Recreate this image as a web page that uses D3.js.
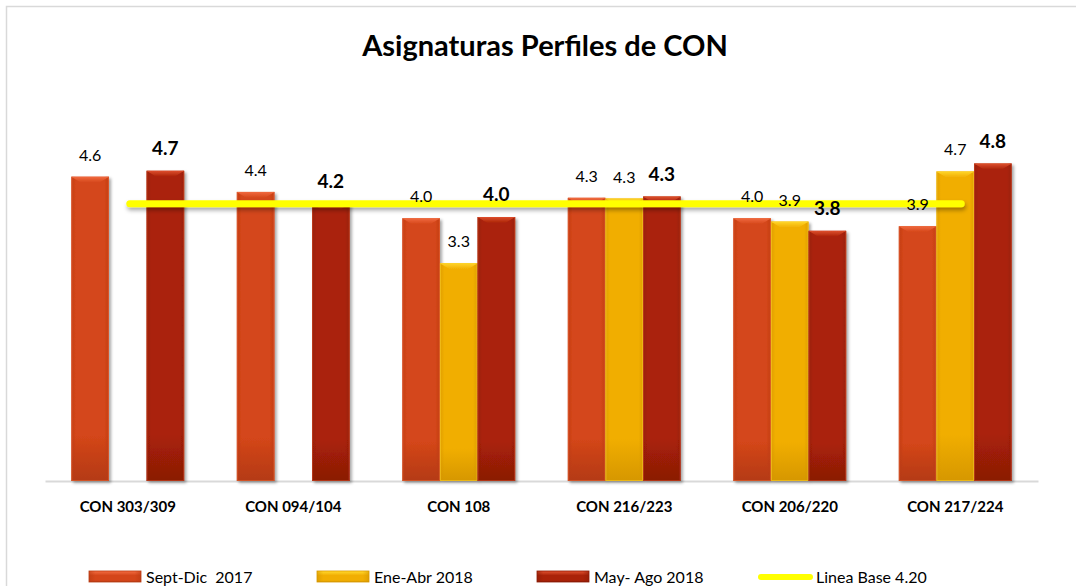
<!DOCTYPE html>
<html>
<head>
<meta charset="utf-8">
<script src="https://cdn.jsdelivr.net/npm/d3@7"></script>
<style>
    body { margin: 0; background: #fff; }
    svg text { font-family: Lato, "Open Sans", sans-serif; fill: #000; }
</style>
</head>
<body>
<div id="chart"></div>
<script>

// data
var categories = ["CON 303/309", "CON 094/104", "CON 108", "CON 216/223", "CON 206/220", "CON 217/224"];
var seriesNames = ["Sept-Dic  2017", "Ene-Abr 2018", "May- Ago 2018"];
var septDic = [4.61, 4.38, 3.98, 4.29, 3.98, 3.86];
var eneAbr = [null, null, 3.30, 4.28, 3.93, 4.69];
var mayAgo = [4.70, 4.20, 4.00, 4.31, 3.79, 4.81];
var lineaBase = [4.20, 4.20, 4.20, 4.20, 4.20, 4.20];
var lineaBaseName = "Linea Base 4.20";

var width = 1076, height = 586;
var margin = { top: 85, right: 38, bottom: 105, left: 45 };

var svg = d3.select("#chart").append("svg")
    .attr("width", width)
    .attr("height", height);

/*
 * defs: gradients and shadow
 */
var defs = svg.append("defs");

var palette = [
    { id: "sept", top: "#f0693e", mid: "#d4461a", low: "#b43a12", edge: "#b83a12" },
    { id: "ene", top: "#ffd52a", mid: "#f1ae02", low: "#d69700", edge: "#d39600" },
    { id: "may", top: "#dc4e2c", mid: "#aa2208", low: "#8a1a05", edge: "#8c1c06" }
];

palette.forEach(function(p) {
    var g = defs.append("linearGradient").attr("id", "body-" + p.id)
        .attr("x1", 0).attr("x2", 0).attr("y1", 0).attr("y2", 1);
    g.append("stop").attr("offset", "0%").attr("stop-color", p.mid);
    g.append("stop").attr("offset", "85%").attr("stop-color", p.mid);
    g.append("stop").attr("offset", "100%").attr("stop-color", p.low);

    var h = defs.append("linearGradient").attr("id", "side-" + p.id)
        .attr("x1", 0).attr("x2", 1).attr("y1", 0).attr("y2", 0);
    h.append("stop").attr("offset", "0%").attr("stop-color", p.edge).attr("stop-opacity", 0.6);
    h.append("stop").attr("offset", "12%").attr("stop-color", p.edge).attr("stop-opacity", 0);
    h.append("stop").attr("offset", "88%").attr("stop-color", p.edge).attr("stop-opacity", 0);
    h.append("stop").attr("offset", "100%").attr("stop-color", p.edge).attr("stop-opacity", 0.6);

    var t = defs.append("linearGradient").attr("id", "top-" + p.id)
        .attr("x1", 0).attr("x2", 0).attr("y1", 0).attr("y2", 1);
    t.append("stop").attr("offset", "0%").attr("stop-color", p.top);
    t.append("stop").attr("offset", "100%").attr("stop-color", p.mid);
});

var shadow = defs.append("filter").attr("id", "shadow")
    .attr("x", "-20%").attr("y", "-20%").attr("width", "150%").attr("height", "150%");
shadow.append("feDropShadow")
    .attr("dx", 2).attr("dy", 2).attr("stdDeviation", 1.8)
    .attr("flood-color", "#000").attr("flood-opacity", 0.35);

// a flat line has no height, so its shadow works in user space
var lineShadow = defs.append("filter").attr("id", "line-shadow")
    .attr("filterUnits", "userSpaceOnUse")
    .attr("x", 0).attr("y", 0).attr("width", width).attr("height", height);
lineShadow.append("feDropShadow")
    .attr("dx", 1).attr("dy", 3).attr("stdDeviation", 2)
    .attr("flood-color", "#000").attr("flood-opacity", 0.35);

// chart border
svg.append("rect")
    .attr("x", 6.5).attr("y", 6.5)
    .attr("width", 1090).attr("height", 600)
    .style("fill", "none")
    .style("stroke", "#d9d9d9")
    .style("stroke-width", 1.5);

// title
svg.append("text")
    .attr("x", 545)
    .attr("y", 56)
    .attr("text-anchor", "middle")
    .style("font-size", "29px")
    .style("font-weight", "bold")
    .text("Asignaturas Perfiles de CON");

/*
 * scales
 */
var x0 = d3.scaleBand()
    .domain(categories)
    .range([margin.left, width - margin.right])
    .padding(0);

var x1 = d3.scaleBand()
    .domain(seriesNames)
    .range([0, x0.bandwidth()])
    .paddingInner(0)
    .paddingOuter(0.7);

var y = d3.scaleLinear()
    .domain([0, 6])
    .range([height - margin.bottom, margin.top]);

var allSeries = [septDic, eneAbr, mayAgo];
var bars = [];
categories.forEach(function(c, i) {
    allSeries.forEach(function(s, j) {
        if (s[i] !== null) bars.push({ cat: c, series: seriesNames[j], idx: j, value: s[i] });
    });
});

// x axis
var xAxis = svg.append("g")
    .attr("class", "x-axis")
    .attr("transform", "translate(0," + y(0) + ")")
    .call(d3.axisBottom(x0).tickSize(0));

xAxis.select(".domain")
    .style("stroke", "#d9d9d9")
    .style("stroke-width", 2);

xAxis.selectAll("text")
    .attr("y", 31)
    .attr("dy", 0)
    .style("font-family", "Lato, sans-serif")
    .style("font-size", "15px")
    .style("font-weight", "bold")
    .style("fill", "#000");

/*
 * bars
 */
var bevel = 6;

var barG = svg.selectAll(".bar")
    .data(bars)
    .enter().append("g")
    .attr("class", "bar")
    .attr("transform", function(d) { return "translate(" + (x0(d.cat) + x1(d.series)) + ",0)"; })
    .style("filter", "url(#shadow)");

barG.append("rect")
    .attr("x", 0)
    .attr("y", function(d) { return y(d.value); })
    .attr("width", x1.bandwidth())
    .attr("height", function(d) { return y(0) - y(d.value); })
    .style("fill", function(d) { return "url(#body-" + palette[d.idx].id + ")"; });

barG.append("rect")
    .attr("x", 0)
    .attr("y", function(d) { return y(d.value); })
    .attr("width", x1.bandwidth())
    .attr("height", function(d) { return y(0) - y(d.value); })
    .style("fill", function(d) { return "url(#side-" + palette[d.idx].id + ")"; });

barG.append("path")
    .attr("d", function(d) {
        var w = x1.bandwidth(), t = y(d.value);
        return "M0," + t + "L" + w + "," + t + "L" + (w - bevel * 1.6) + "," + (t + bevel) +
            "L" + (bevel * 1.6) + "," + (t + bevel) + "Z";
    })
    .style("fill", function(d) { return "url(#top-" + palette[d.idx].id + ")"; });

// thin light outline
barG.append("rect")
    .attr("x", 0.5)
    .attr("y", function(d) { return y(d.value) + 0.5; })
    .attr("width", x1.bandwidth() - 1)
    .attr("height", function(d) { return y(0) - y(d.value) - 1; })
    .style("fill", "none")
    .style("stroke", function(d) { return palette[d.idx].top; })
    .style("stroke-opacity", 0.5)
    .style("stroke-width", 1);

/*
 * linea base
 */
var line = d3.line()
    .x(function(d, i) { return x0(categories[i]) + x0.bandwidth() / 2 + (i === 0 ? 2 : 6); })
    .y(function(d) { return y(d); });

svg.append("path")
    .datum(lineaBase)
    .attr("d", line)
    .style("fill", "none")
    .style("stroke", "#ffff00")
    .style("stroke-width", 7)
    .style("stroke-linecap", "round")
    .style("filter", "url(#line-shadow)");

/*
 * data labels
 */
var fmt = d3.format(".1f");

svg.selectAll(".label")
    .data(bars)
    .enter().append("text")
    .attr("class", "label")
    .attr("x", function(d) { return x0(d.cat) + x1(d.series) + x1.bandwidth() / 2; })
    .attr("y", function(d) { return y(d.value) - 16; })
    .attr("text-anchor", "middle")
    .style("font-size", function(d) { return d.idx === 2 ? "19px" : "16px"; })
    .style("font-weight", function(d) { return d.idx === 2 ? "bold" : "normal"; })
    .text(function(d) { return fmt(d.value); });

/*
 * legend
 */
var legendX = [89, 317, 537, 758];
var legendY = 577;

var legend = svg.selectAll(".legend")
    .data(seriesNames.concat([lineaBaseName]))
    .enter().append("g")
    .attr("class", "legend")
    .attr("transform", function(d, i) { return "translate(" + legendX[i] + "," + legendY + ")"; });

legend.each(function(d, i) {
    var g = d3.select(this);
    if (i < 3) {
        var p = palette[i];
        g.append("rect")
            .attr("x", 0).attr("y", -6)
            .attr("width", 52).attr("height", 11)
            .style("fill", "url(#body-" + p.id + ")")
            .style("stroke", p.low)
            .style("stroke-width", 0.8);
        g.append("rect")
            .attr("x", 0.5).attr("y", -5.5)
            .attr("width", 51).attr("height", 4)
            .style("fill", "url(#top-" + p.id + ")");
        g.append("rect")
            .attr("x", 0).attr("y", -6)
            .attr("width", 52).attr("height", 11)
            .style("fill", "url(#side-" + p.id + ")");
    } else {
        g.append("line")
            .attr("x1", 3).attr("x2", 52)
            .attr("y1", 0).attr("y2", 0)
            .style("stroke", "#ffff00")
            .style("stroke-width", 6)
            .style("stroke-linecap", "round");
    }
    g.append("text")
        .attr("x", i < 3 ? 57 : 58)
        .attr("y", 6)
        .style("font-size", "16px")
        .style("white-space", "pre")
        .text(d);
});

</script>
</body>
</html>
